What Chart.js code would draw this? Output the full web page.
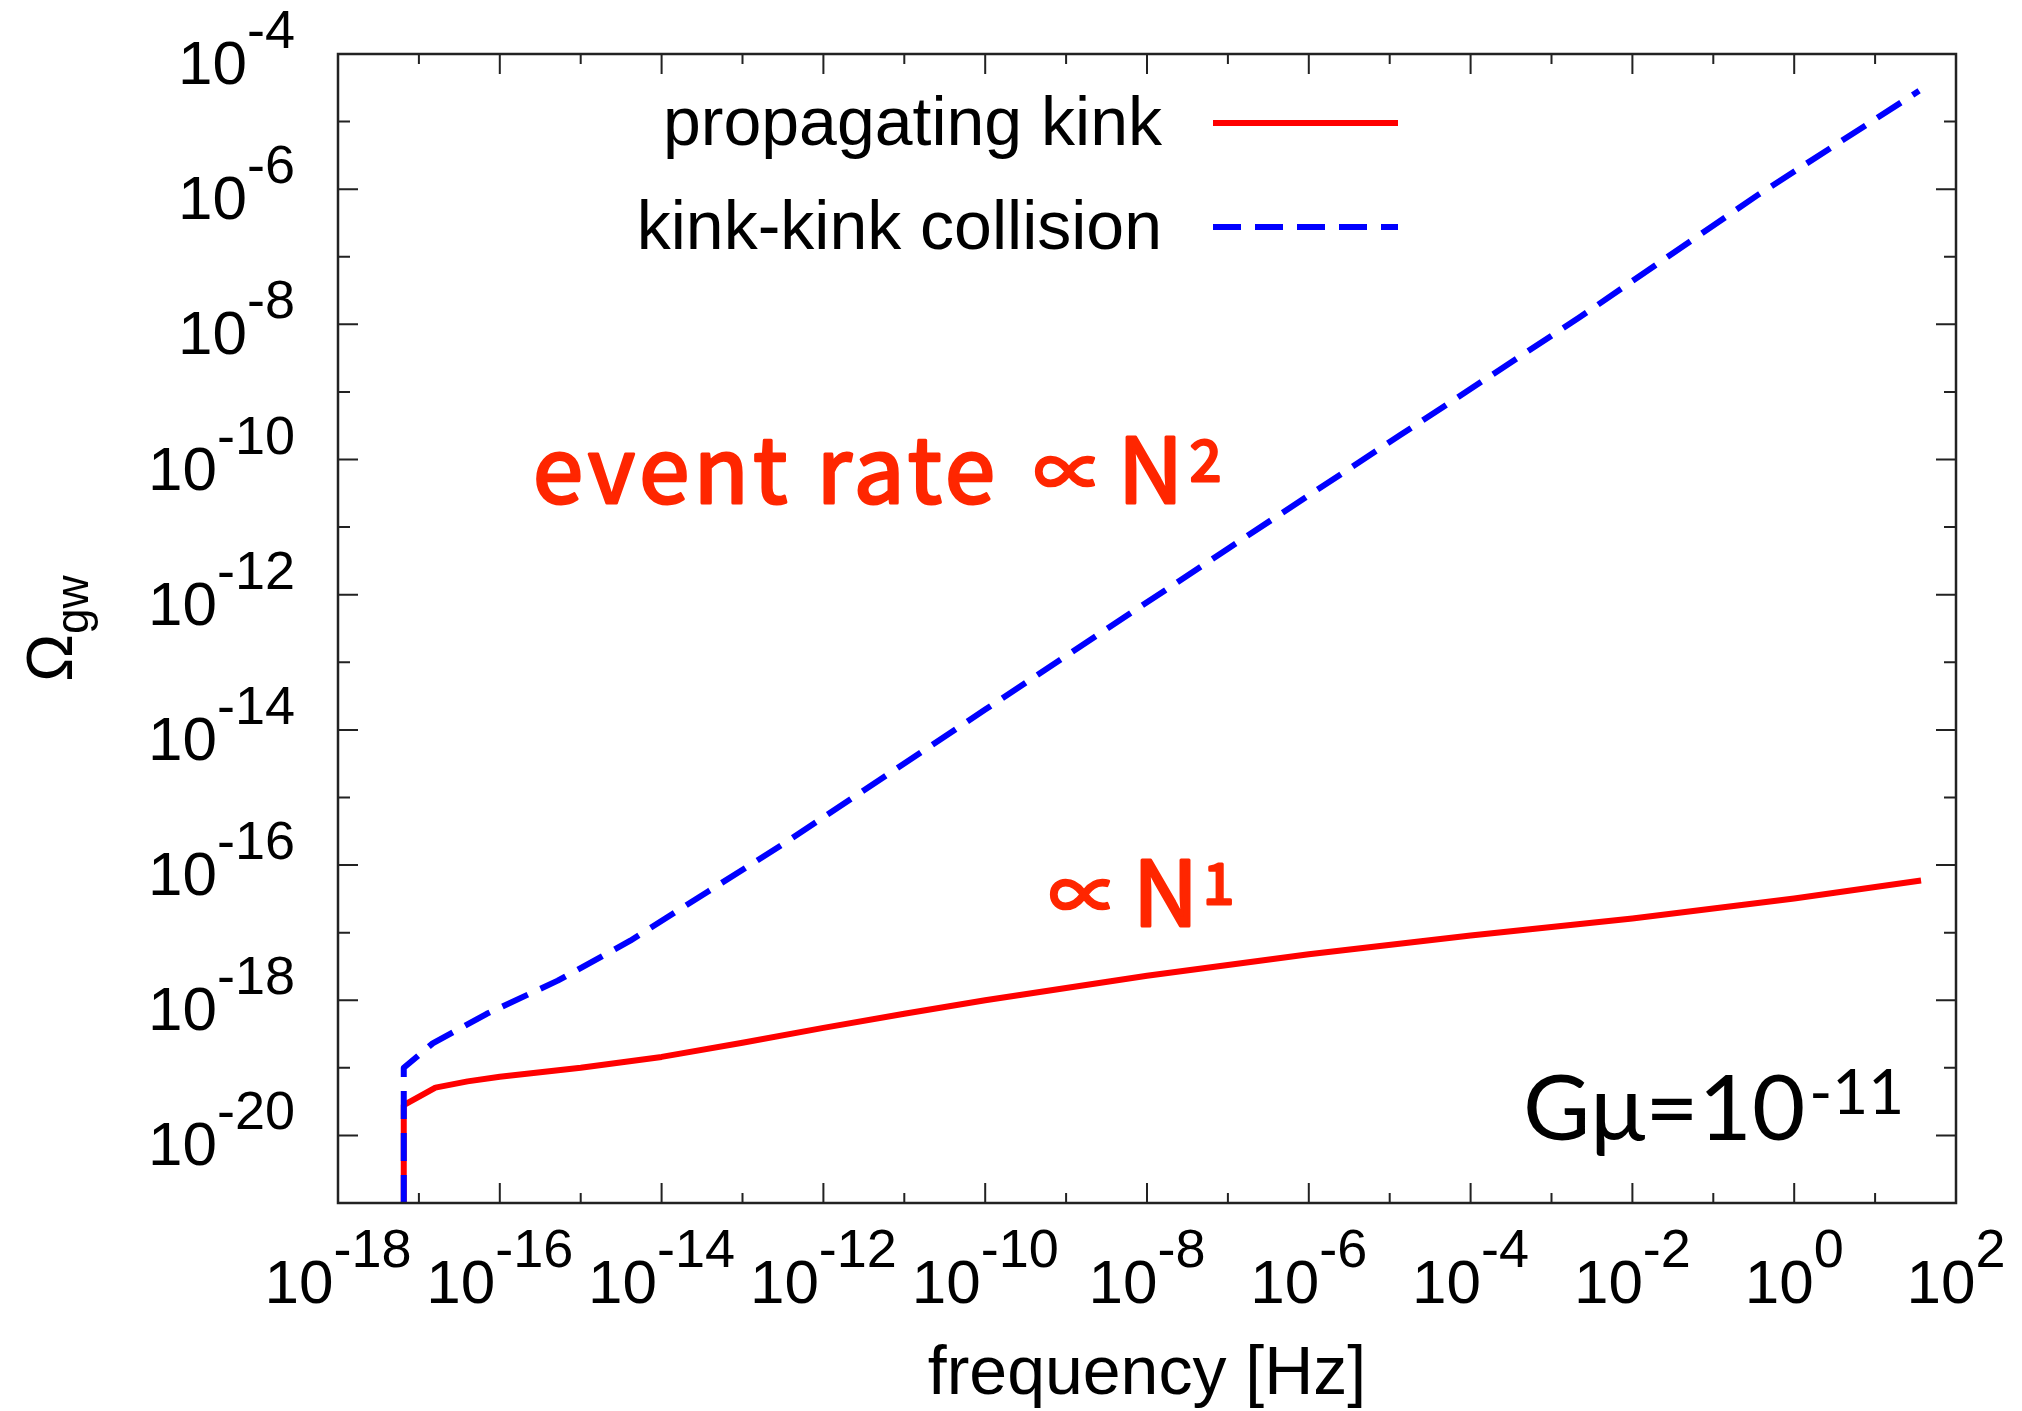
<!DOCTYPE html>
<html>
<head>
<meta charset="utf-8">
<script src="https://cdn.jsdelivr.net/npm/chart.js@4.4.0/dist/chart.umd.min.js"></script>
<style>
  html, body { margin: 0; padding: 0; background: #fff; }
  #wrap { width: 2022px; height: 1411px; }
</style>
</head>
<body>
<div id="wrap"><canvas id="gw" width="2022" height="1411"></canvas></div>
<script>
/* ------------------------------------------------------------
   data (frequency in Hz, Omega_gw)
------------------------------------------------------------ */
const seriesNames = ["propagating kink", "kink-kink collision"];

const kinkFreq  = [6.5e-18, 6.5e-18, 1.6e-17, 4e-17, 1e-16, 1e-15, 1e-14, 1e-13, 1e-12, 1e-11, 1e-10, 1e-8, 1e-6, 1e-4, 1e-2, 1, 37];
const kinkOmega = [1e-21, 2.8e-20, 5.1e-20, 6.3e-20, 7.4e-20, 1.0e-19, 1.45e-19, 2.35e-19, 3.9e-19, 6.3e-19, 1.0e-18, 2.3e-18, 4.8e-18, 9.1e-18, 1.62e-17, 3.2e-17, 5.9e-17];

const collFreq  = [6.5e-18, 6.5e-18, 1.48e-17, 6.9e-17, 5.2e-16, 4.1e-15, 3.8e-14, 3.5e-13, 1e-10, 1e-7, 1.35e-5, 2.2e-3, 0.36, 35];
const collOmega = [1e-21, 1.0e-19, 2.3e-19, 6.3e-19, 1.95e-18, 7.6e-18, 4.1e-17, 2.2e-16, 2.0e-14, 4.8e-12, 2.3e-10, 1.26e-8, 8.3e-7, 2.85e-5];

// decades of the axes; labelled every second one
const xExps = [-18, -17, -16, -15, -14, -13, -12, -11, -10, -9, -8, -7, -6, -5, -4, -3, -2, -1, 0, 1, 2];
const xLabelExps = [-18, -16, -14, -12, -10, -8, -6, -4, -2, 0, 2];
const yExps = [-21, -20, -19, -18, -17, -16, -15, -14, -13, -12, -11, -10, -9, -8, -7, -6, -5, -4];
const yLabelExps = [-20, -18, -16, -14, -12, -10, -8, -6, -4];

const xTitle = "frequency [Hz]";
const noteRate = "event rate";
const notePropto = "\u221D";
const noteN = "N";
const noteGmu = ["G\u03BC=10", "-11"];

/* ------------------------------------------------------------
   gnuplot-like frame, ticks, labels, key and notes
------------------------------------------------------------ */
const BASE_FONT = '62px "Liberation Sans"';
const SUP_FONT = '54px "Liberation Sans"';
const RED_TEXT = "#ff2600";
const NOTE_FONT = '90px "Noto Sans CJK JP"';
const NOTE_SUP = '56px "Noto Sans CJK JP"';

function drawPow(ctx, e, x, y, align) {
    const exp = String(e);
    ctx.font = BASE_FONT;
    const wb = ctx.measureText("10").width;
    ctx.font = SUP_FONT;
    const we = ctx.measureText(exp).width;
    const x0 = align === "center" ? x - (wb + we) / 2 : x - (wb + we);
    ctx.textAlign = "left";
    ctx.textBaseline = "alphabetic";
    ctx.font = BASE_FONT;
    ctx.fillText("10", x0, y);
    ctx.font = SUP_FONT;
    ctx.fillText(exp, x0 + wb, y - 36);
}

// one piece of a note; if w is given the letters are spread to fill it
function notePiece(ctx, t, font, x, y, w) {
    ctx.font = font;
    ctx.letterSpacing = "0px";
    if (w && t.length > 1) {
        const m = ctx.measureText(t).width;
        ctx.letterSpacing = ((w - m) / (t.length - 1)).toFixed(2) + "px";
    }
    ctx.fillText(t, x, y);
    ctx.strokeText(t, x, y);
    ctx.letterSpacing = "0px";
}

const gnuplotLook = {
    id: "gnuplotLook",
    afterDatasetsDraw(chart) {
        const ctx = chart.ctx;
        const a = chart.chartArea;
        const xs = chart.scales.x, ys = chart.scales.y;
        ctx.save();

        // frame
        ctx.strokeStyle = "#222";
        ctx.lineWidth = 2.5;
        ctx.strokeRect(a.left, a.top, a.right - a.left, a.bottom - a.top);

        // ticks on all four sides
        ctx.lineWidth = 2;
        ctx.beginPath();
        xExps.forEach(e => {
            const px = xs.getPixelForValue(Math.pow(10, e));
            const len = e % 2 === 0 ? 20 : 10;
            ctx.moveTo(px, a.bottom); ctx.lineTo(px, a.bottom - len);
            ctx.moveTo(px, a.top); ctx.lineTo(px, a.top + len);
        });
        yExps.forEach(e => {
            const py = ys.getPixelForValue(Math.pow(10, e));
            const len = e % 2 === 0 ? 20 : 12;
            ctx.moveTo(a.left, py); ctx.lineTo(a.left + len, py);
            ctx.moveTo(a.right, py); ctx.lineTo(a.right - len, py);
        });
        ctx.stroke();

        // tick labels
        ctx.fillStyle = "#000";
        xLabelExps.forEach(e => {
            drawPow(ctx, e, xs.getPixelForValue(Math.pow(10, e)), a.bottom + 100, "center");
        });
        yLabelExps.forEach(e => {
            drawPow(ctx, e, a.left - 43, ys.getPixelForValue(Math.pow(10, e)) + 30, "right");
        });

        // axis titles
        ctx.font = '68px "Liberation Sans"';
        ctx.textAlign = "center";
        ctx.fillText(xTitle, (a.left + a.right) / 2, 1394);

        ctx.save();
        ctx.translate(72, (a.top + a.bottom) / 2);
        ctx.rotate(-Math.PI / 2);
        ctx.font = '64px "Liberation Sans"';
        const wo = ctx.measureText("\u03A9").width;
        ctx.font = '46px "Liberation Sans"';
        const wg = ctx.measureText("gw").width;
        const sx = -(wo + wg) / 2;
        ctx.textAlign = "left";
        ctx.font = '64px "Liberation Sans"';
        ctx.fillText("\u03A9", sx, 0);
        ctx.font = '46px "Liberation Sans"';
        ctx.fillText("gw", sx + wo, 16);
        ctx.restore();

        // key
        ctx.font = '68px "Liberation Sans"';
        ctx.textAlign = "right";
        const keyRows = [123, 227];
        chart.data.datasets.forEach((ds, i) => {
            ctx.fillStyle = "#000";
            ctx.fillText(ds.label, 1162, keyRows[i] + 22);
            ctx.strokeStyle = ds.borderColor;
            ctx.lineWidth = ds.borderWidth;
            ctx.setLineDash(ds.borderDash || []);
            ctx.beginPath();
            ctx.moveTo(1213, keyRows[i]);
            ctx.lineTo(1398, keyRows[i]);
            ctx.stroke();
            ctx.setLineDash([]);
        });

        // red notes
        ctx.textAlign = "left";
        ctx.textBaseline = "alphabetic";
        ctx.fillStyle = RED_TEXT;
        ctx.strokeStyle = RED_TEXT;
        ctx.lineWidth = 3;
        ctx.lineJoin = "round";
        notePiece(ctx, noteRate, NOTE_FONT, 533, 503, 462);
        notePiece(ctx, notePropto, '70px "Noto Sans CJK JP"', 1034, 498);
        notePiece(ctx, noteN, NOTE_FONT, 1118, 503);
        notePiece(ctx, "2", NOTE_SUP, 1190, 481);

        notePiece(ctx, notePropto, '70px "Noto Sans CJK JP"', 1049, 921);
        notePiece(ctx, noteN, NOTE_FONT, 1133, 926);
        notePiece(ctx, "1", NOTE_SUP, 1203, 904);

        // G mu label
        ctx.fillStyle = "#000";
        ctx.font = '92px Lato';
        ctx.fillText(noteGmu[0], 1523, 1140);
        const wg2 = ctx.measureText(noteGmu[0]).width;
        ctx.font = '62px Lato';
        ctx.fillText(noteGmu[1], 1523 + wg2 + 4, 1114);

        ctx.restore();
    }
};

function xy(fs, vs) {
    return fs.map((f, i) => ({ x: f, y: vs[i] }));
}

new Chart(document.getElementById("gw"), {
    type: "scatter",
    data: {
        datasets: [{
            label: seriesNames[0],
            data: xy(kinkFreq, kinkOmega),
            showLine: true,
            borderColor: "#ff0000",
            borderWidth: 6,
            borderJoinStyle: "round",
            pointRadius: 0,
            order: 1
        }, {
            label: seriesNames[1],
            data: xy(collFreq, collOmega),
            showLine: true,
            borderColor: "#0000ff",
            borderWidth: 6,
            borderDash: [28, 14],
            borderJoinStyle: "round",
            pointRadius: 0,
            order: 0
        }]
    },
    options: {
        responsive: false,
        animation: false,
        devicePixelRatio: 1,
        layout: { padding: { top: 54, right: 66, bottom: 0, left: 0 } },
        plugins: { legend: { display: false }, tooltip: { enabled: false } },
        scales: {
            x: {
                type: "logarithmic", min: 1e-18, max: 1e2,
                grid: { display: false }, border: { display: false },
                ticks: { display: false },
                afterFit(s) { s.height = 208; }
            },
            y: {
                type: "logarithmic", min: 1e-21, max: 1e-4,
                grid: { display: false }, border: { display: false },
                ticks: { display: false },
                afterFit(s) { s.width = 338; }
            }
        }
    },
    plugins: [gnuplotLook]
});
</script>
</body>
</html>
